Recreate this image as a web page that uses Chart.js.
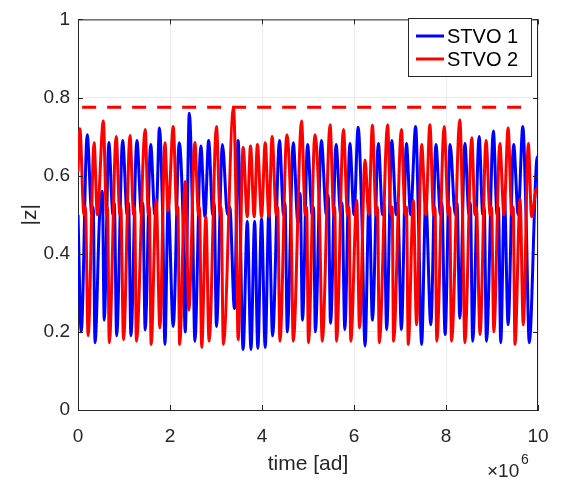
<!DOCTYPE html>
<html>
<head>
<meta charset="utf-8">
<script src="https://cdn.jsdelivr.net/npm/chart.js@4/dist/chart.umd.min.js"></script>
<style>
  html, body { margin: 0; padding: 0; background: #fff; }
  #wrap { width: 567px; height: 481px; }
</style>
</head>
<body>
<div id="wrap"><canvas id="zChart" width="567" height="481"></canvas></div>
<script>
// time in units of 1e6 [ad], values are |z|
const timeStvo1 = [
    0.00, 0.07, 0.20, 0.30, 0.33, 0.37, 0.47, 0.53, 0.57, 0.67,
    0.76, 0.79, 0.84, 0.97, 1.07, 1.10, 1.15, 1.28, 1.38, 1.41,
    1.46, 1.58, 1.67, 1.71, 1.77, 1.84, 1.89, 1.96, 2.07, 2.20,
    2.28, 2.33, 2.42, 2.49, 2.54, 2.67, 2.76, 2.84, 2.93, 2.96,
    3.01, 3.14, 3.25, 3.30, 3.40, 3.48, 3.59, 3.68, 3.76, 3.84,
    3.91, 3.99, 4.07, 4.15, 4.23, 4.38, 4.47, 4.50, 4.55, 4.68,
    4.78, 4.83, 4.88, 4.99, 5.09, 5.12, 5.16, 5.29, 5.40, 5.44,
    5.49, 5.61, 5.71, 5.74, 5.80, 5.91, 6.00, 6.09, 6.17, 6.24,
    6.33, 6.40, 6.53, 6.62, 6.65, 6.71, 6.82, 6.92, 6.95, 7.03,
    7.14, 7.23, 7.34, 7.40, 7.47, 7.56, 7.67, 7.78, 7.88, 7.91,
    7.98, 8.09, 8.20, 8.24, 8.30, 8.41, 8.50, 8.53, 8.58, 8.72,
    8.80, 8.83, 8.88, 9.03, 9.11, 9.14, 9.19, 9.27, 9.35, 9.47,
    9.57, 9.67, 9.74, 9.81, 9.97, 10.0
];
const zStvo1 = [
    0.50, 0.20, 0.705, 0.50, 0.52, 0.172, 0.50, 0.56, 0.23, 0.685,
    0.50, 0.53, 0.19, 0.69, 0.50, 0.53, 0.19, 0.69, 0.50, 0.53,
    0.205, 0.68, 0.50, 0.52, 0.722, 0.50, 0.168, 0.53, 0.214, 0.684,
    0.50, 0.20, 0.76, 0.50, 0.176, 0.676, 0.495, 0.69, 0.50, 0.53,
    0.214, 0.68, 0.50, 0.52, 0.26, 0.69, 0.155, 0.483, 0.155, 0.483,
    0.158, 0.49, 0.16, 0.51, 0.19, 0.69, 0.50, 0.53, 0.20, 0.684,
    0.48, 0.554, 0.23, 0.68, 0.50, 0.52, 0.20, 0.69, 0.50, 0.55,
    0.222, 0.68, 0.50, 0.53, 0.206, 0.682, 0.50, 0.724, 0.50, 0.164,
    0.55, 0.23, 0.682, 0.50, 0.53, 0.206, 0.69, 0.50, 0.53, 0.206,
    0.682, 0.50, 0.726, 0.50, 0.168, 0.537, 0.218, 0.68, 0.50, 0.53,
    0.193, 0.68, 0.50, 0.53, 0.235, 0.682, 0.50, 0.53, 0.176, 0.70,
    0.50, 0.52, 0.176, 0.714, 0.50, 0.52, 0.172, 0.55, 0.218, 0.68,
    0.50, 0.726, 0.50, 0.172, 0.638, 0.65
];
const timeStvo2 = [
    0.00, 0.04, 0.13, 0.16, 0.22, 0.35, 0.42, 0.55, 0.62, 0.64,
    0.68, 0.83, 0.91, 0.93, 0.99, 1.13, 1.21, 1.23, 1.27, 1.46,
    1.53, 1.55, 1.59, 1.70, 1.78, 1.89, 1.96, 2.07, 2.15, 2.17,
    2.21, 2.33, 2.41, 2.54, 2.62, 2.64, 2.69, 2.78, 2.85, 3.01,
    3.09, 3.11, 3.16, 3.38, 3.44, 3.48, 3.59, 3.68, 3.75, 3.83,
    3.90, 3.99, 4.07, 4.15, 4.22, 4.31, 4.34, 4.39, 4.54, 4.63,
    4.68, 4.86, 4.94, 4.97, 5.01, 5.15, 5.25, 5.31, 5.48, 5.56,
    5.58, 5.62, 5.77, 5.86, 5.89, 5.93, 6.06, 6.12, 6.24, 6.32,
    6.40, 6.48, 6.51, 6.55, 6.73, 6.80, 6.83, 6.86, 7.03, 7.11,
    7.14, 7.18, 7.29, 7.36, 7.47, 7.56, 7.65, 7.73, 7.76, 7.80,
    7.96, 8.05, 8.08, 8.12, 8.30, 8.36, 8.41, 8.56, 8.63, 8.66,
    8.74, 8.87, 8.96, 8.99, 9.04, 9.17, 9.26, 9.35, 9.43, 9.46,
    9.50, 9.61, 9.68, 9.79, 9.86, 9.97, 10.0
];
const zStvo2 = [
    0.61, 0.72, 0.50, 0.52, 0.19, 0.684, 0.50, 0.74, 0.50, 0.52,
    0.172, 0.70, 0.50, 0.52, 0.18, 0.703, 0.50, 0.52, 0.176, 0.718,
    0.50, 0.52, 0.168, 0.537, 0.21, 0.684, 0.51, 0.726, 0.50, 0.52,
    0.168, 0.585, 0.256, 0.685, 0.50, 0.52, 0.16, 0.495, 0.176, 0.726,
    0.50, 0.52, 0.168, 0.775, 0.50, 0.18, 0.672, 0.495, 0.676, 0.495,
    0.68, 0.495, 0.684, 0.495, 0.70, 0.50, 0.52, 0.176, 0.705, 0.495,
    0.176, 0.74, 0.50, 0.52, 0.172, 0.705, 0.495, 0.176, 0.73, 0.50,
    0.52, 0.176, 0.718, 0.50, 0.52, 0.176, 0.537, 0.21, 0.64, 0.50,
    0.729, 0.50, 0.52, 0.172, 0.73, 0.50, 0.52, 0.176, 0.718, 0.50,
    0.52, 0.168, 0.537, 0.218, 0.68, 0.50, 0.73, 0.50, 0.52, 0.176,
    0.726, 0.50, 0.52, 0.176, 0.743, 0.50, 0.172, 0.697, 0.50, 0.52,
    0.193, 0.69, 0.50, 0.52, 0.20, 0.682, 0.50, 0.722, 0.50, 0.52,
    0.168, 0.54, 0.218, 0.682, 0.495, 0.567, 0.56
];
// dashed red level line
const levelTime = [0.09, 9.72];
const levelZ = [0.775, 0.775];

const xTicks = [0, 2, 4, 6, 8, 10];
const yTicks = [0, 0.2, 0.4, 0.6, 0.8, 1];
const seriesLabels = ['STVO 1', 'STVO 2'];

const FONT = "'Liberation Sans', Arial, Helvetica, sans-serif";
const INK = '#262626';

const toPoints = (xs, ys) => xs.map((x, i) => ({ x, y: ys[i] }));

// MATLAB-like box, inward tick marks, exponent label and legend
const matlabAxes = {
    id: 'matlabAxes',
    afterDraw(chart) {
        const { ctx, chartArea: a, scales } = chart;
        ctx.save();
        ctx.strokeStyle = INK;
        ctx.lineWidth = 1;
        ctx.beginPath();
        ctx.moveTo(a.left, a.top + 0.5);
        ctx.lineTo(a.right, a.top + 0.5);
        ctx.moveTo(a.right - 0.5, a.top);
        ctx.lineTo(a.right - 0.5, a.bottom);
        xTicks.forEach((v) => {
            const px = Math.round(scales.x.getPixelForValue(v)) + 0.5;
            ctx.moveTo(px, a.bottom);
            ctx.lineTo(px, a.bottom - 5);
            ctx.moveTo(px, a.top);
            ctx.lineTo(px, a.top + 5);
        });
        yTicks.forEach((v) => {
            const py = Math.round(scales.y.getPixelForValue(v)) + 0.5;
            ctx.moveTo(a.left, py);
            ctx.lineTo(a.left + 5, py);
            ctx.moveTo(a.right, py);
            ctx.lineTo(a.right - 5, py);
        });
        ctx.stroke();

        // x10^6 multiplier
        ctx.fillStyle = INK;
        ctx.textBaseline = 'alphabetic';
        ctx.textAlign = 'left';
        ctx.font = `19px ${FONT}`;
        ctx.fillText('\u00d710', 487, 477);
        ctx.font = `14px ${FONT}`;
        ctx.fillText('6', 521, 464);

        // legend box
        const lx = 408, ly = 18, lw = 123, lh = 58;
        ctx.fillStyle = '#fff';
        ctx.fillRect(lx, ly, lw, lh);
        ctx.strokeStyle = INK;
        ctx.strokeRect(lx + 0.5, ly + 0.5, lw, lh);
        ctx.font = `20px ${FONT}`;
        ctx.textBaseline = 'middle';
        [0, 1].forEach((i) => {
            const ds = chart.data.datasets[i];
            const yy = ly + 18 + i * 23;
            ctx.strokeStyle = ds.borderColor;
            ctx.lineWidth = 3;
            ctx.beginPath();
            ctx.moveTo(lx + 8, yy);
            ctx.lineTo(lx + 36, yy);
            ctx.stroke();
            ctx.fillStyle = '#000';
            ctx.fillText(ds.label, lx + 39, yy + 1);
        });
        ctx.restore();
    },
};

new Chart(document.getElementById('zChart'), {
    type: 'line',
    data: {
        datasets: [
            {
                label: seriesLabels[0],
                data: toPoints(timeStvo1, zStvo1),
                borderColor: '#0000ff',
                borderWidth: 3,
                pointRadius: 0,
                cubicInterpolationMode: 'monotone',
                order: 2,
            },
            {
                label: seriesLabels[1],
                data: toPoints(timeStvo2, zStvo2),
                borderColor: '#ff0000',
                borderWidth: 3,
                pointRadius: 0,
                cubicInterpolationMode: 'monotone',
                order: 1,
            },
            {
                label: 'level',
                data: toPoints(levelTime, levelZ),
                borderColor: '#ff0000',
                borderWidth: 3,
                borderDash: [14, 11],
                pointRadius: 0,
                order: 0,
            },
        ],
    },
    options: {
        responsive: false,
        animation: false,
        layout: { padding: { left: 0, right: 29, top: 13, bottom: 0 } },
        plugins: {
            legend: { display: false },
            tooltip: { enabled: false },
        },
        scales: {
            x: {
                type: 'linear',
                min: 0,
                max: 10,
                afterBuildTicks: (s) => { s.ticks = xTicks.map((value) => ({ value })); },
                afterFit: (s) => { s.height = 71; },
                ticks: { color: INK, font: { family: FONT, size: 19 }, padding: 15, maxRotation: 0, callback: (v) => String(v) },
                grid: { color: '#ebebeb', drawTicks: false },
                border: { color: INK, width: 1 },
                title: { display: true, text: 'time [ad]', color: INK, font: { family: FONT, size: 21 }, padding: { top: 0, bottom: 4 } },
            },
            y: {
                min: 0,
                max: 1,
                afterBuildTicks: (s) => { s.ticks = yTicks.map((value) => ({ value })); },
                afterFit: (s) => { s.width = 78; },
                ticks: { color: INK, font: { family: FONT, size: 19 }, padding: 8, callback: (v) => String(v) },
                grid: { color: '#ebebeb', drawTicks: false },
                border: { color: INK, width: 1 },
                title: { display: true, text: '|z|', color: INK, font: { family: FONT, size: 21 }, padding: { top: 18, bottom: 0 } },
            },
        },
    },
    plugins: [matlabAxes],
});
</script>
</body>
</html>
